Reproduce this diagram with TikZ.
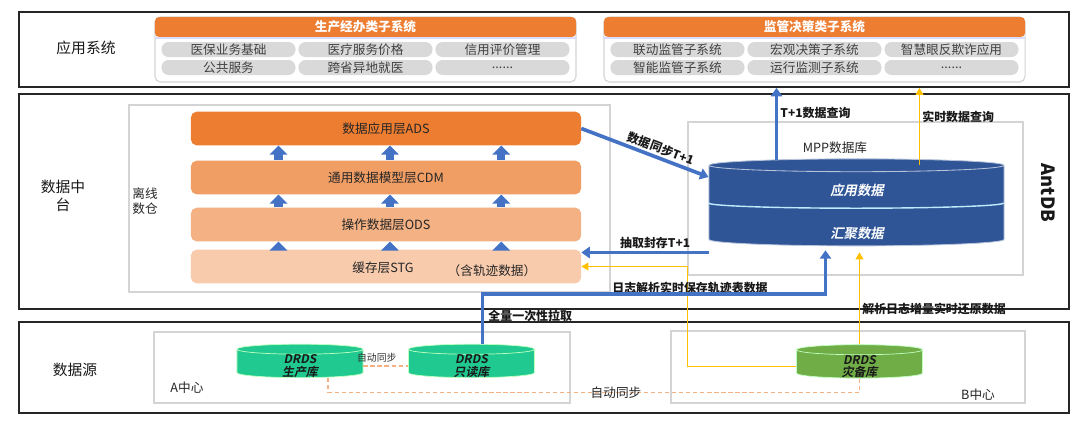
\documentclass[tikz,border=0pt]{standalone}
\usepackage{fontspec}
\setmainfont{Noto Sans CJK SC}[
    ItalicFont={Noto Sans CJK SC},
    ItalicFeatures={FakeSlant=0.2},
    BoldItalicFont={Noto Sans CJK SC Bold},
    BoldItalicFeatures={FakeSlant=0.2}]
\usepackage{tikz}
\usetikzlibrary{positioning,arrows.meta,calc,shapes.geometric}

\definecolor{hdrorange}{HTML}{ED7D31}
\definecolor{pillgray}{HTML}{D9D9D9}
\definecolor{adscol}{HTML}{ED7D31}
\definecolor{cdmcol}{HTML}{F19E65}
\definecolor{odscol}{HTML}{F4B183}
\definecolor{stgcol}{HTML}{F8CBAD}
\definecolor{arrowblue}{HTML}{4472C4}
\definecolor{arrowyellow}{HTML}{FFC000}
\definecolor{mppblue}{HTML}{2F5597}
\definecolor{drdsgreen}{HTML}{20C98F}
\definecolor{backupgreen}{HTML}{70AD47}
\definecolor{syncorange}{HTML}{F4B183}

\tikzset{
    tierbox/.style = {
        draw=black!85,
        shape=rectangle,
        line width=1.2pt,
        minimum width=26.25cm
    },
    subbox/.style = {
        draw=black!17,
        shape=rectangle,
        line width=1pt
    },
    subsys/.style = {
        draw=black!17,
        fill=white,
        rounded corners=4pt,
        line width=0.8pt,
        minimum width=10.525cm,
        minimum height=1.625cm
    },
    grouphead/.style = {
        fill=hdrorange,
        text=white,
        rounded corners=3pt,
        inner sep=0pt,
        minimum width=10.525cm,
        minimum height=0.5cm,
        font=\bfseries\fontsize{9}{10}\selectfont
    },
    headshadow/.style = {draw=blue!14, line width=1.2pt},
    pill/.style = {
        fill=pillgray,
        rounded corners=0.18cm,
        inner sep=0pt,
        minimum width=3.35cm,
        minimum height=0.375cm,
        text=black!75,
        font=\fontsize{9}{10}\selectfont
    },
    layer/.style = {
        rounded corners=4pt,
        inner sep=0pt,
        minimum width=9.75cm,
        minimum height=0.84cm,
        text=black!85,
        font=\fontsize{9}{10}\selectfont
    },
    tier/.style = {text=black!90, font=\fontsize{10.5}{13}\selectfont},
    plainlabel/.style = {text=black!85, font=\fontsize{9}{11}\selectfont},
    smalllabel/.style = {text=black!80, inner sep=1pt, font=\fontsize{7}{8}\selectfont},
    flowlabel/.style = {text=black!90, inner sep=1.5pt, font=\bfseries\fontsize{8.5}{10}\selectfont},
    antdb/.style = {rotate=-90, text=black!90, font=\bfseries\fontsize{13}{15}\selectfont},
    mppdb/.style = {
        cylinder,
        shape border rotate=90,
        aspect=0.044,
        fill=mppblue,
        draw=white!65!mppblue,
        line width=0.6pt,
        inner xsep=3.65cm,
        inner ysep=0pt,
        minimum width=7.375cm,
        minimum height=2.175cm
    },
    dbtext/.style = {text=white, font=\bfseries\itshape\fontsize{9.5}{11}\selectfont},
    drds/.style = {
        cylinder,
        shape border rotate=90,
        aspect=0.08,
        draw=white!75!green,
        line width=0.5pt,
        inner xsep=1.12cm,
        inner ysep=0pt,
        align=center,
        minimum width=3.15cm,
        minimum height=0.625cm,
        text=black!90,
        font=\bfseries\itshape\fontsize{8.5}{9}\selectfont
    },
    divider/.style = {draw=cyan!25, line width=1pt},
    bluearrow/.style = {draw=arrowblue, line width=2.6pt, -{Triangle[width=8pt,length=6pt]}},
    yellowarrow/.style = {draw=arrowyellow, line width=1pt, -{Triangle[width=5.5pt,length=5pt]}},
    layerarrow/.style = {draw=arrowblue, line width=6pt, -{Triangle[width=12.5pt,length=6.5pt]}},
    syncline/.style = {draw=syncorange, line width=1pt, dash pattern=on 3pt off 2pt},
}

\begin{document}
\begin{tikzpicture}[x=0.025cm, y=-0.025cm]
    \fill[white] (0,0) rectangle (1080,423);
    \useasboundingbox (0,0) rectangle (1080,423);

    % three tiers
    \node[tierbox, minimum height=1.875cm] (appsys) at (544,49.5) {};
    \node[tierbox, minimum height=5.375cm] (platform) at (544,201.5) {};
    \node[tierbox, minimum height=2.275cm] (source) at (544,367.5) {};
    \node[tier] (appsyslbl) at (86,48) {应用系统};
    \node[tier, align=center] (platformlbl) at (63,196) {数据中\\台};
    \node[tier] (sourcelbl) at (75,370) {数据源};
    \node[antdb] (antdb) at (1048,193) {AntDB};

    % application subsystems
    \node[subsys] (prodgrp) at (365.5,49.5) {};
    \node[grouphead] (prodhead) at (365.5,27) {生产经办类子系统};
    \draw[headshadow] ([yshift=-0.6pt]prodhead.south west) -- ([yshift=-0.6pt]prodhead.south east);
    \node[pill] (pill11) at (228.5,49.5) {医保业务基础};
    \node[pill] (pill12) at (365.5,49.5) {医疗服务价格};
    \node[pill] (pill13) at (502.5,49.5) {信用评价管理};
    \node[pill] (pill14) at (228.5,67.5) {公共服务};
    \node[pill] (pill15) at (365.5,67.5) {跨省异地就医};
    \node[pill] (pill16) at (502.5,67.5) {......};

    \node[subsys] (supgrp) at (814.5,49.5) {};
    \node[grouphead] (suphead) at (814.5,27) {监管决策类子系统};
    \draw[headshadow] ([yshift=-0.6pt]suphead.south west) -- ([yshift=-0.6pt]suphead.south east);
    \node[pill] (pill21) at (677.5,49.5) {联动监管子系统};
    \node[pill] (pill22) at (814.5,49.5) {宏观决策子系统};
    \node[pill] (pill23) at (951.5,49.5) {智慧眼反欺诈应用};
    \node[pill] (pill24) at (677.5,67.5) {智能监管子系统};
    \node[pill] (pill25) at (814.5,67.5) {运行监测子系统};
    \node[pill] (pill26) at (951.5,67.5) {......};

    % offline warehouse
    \node[subbox, minimum width=12.025cm, minimum height=4.675cm] (warehouse) at (369.5,198.5) {};
    \node[plainlabel, align=left] (warehouselbl) at (145,201) {离线\\数仓};
    \node[layer, fill=adscol] (ads) at (386,128.5) {数据应用层ADS};
    \node[layer, fill=cdmcol] (cdm) at (386,177.5) {通用数据模型层CDM};
    \node[layer, fill=odscol] (ods) at (386,224.5) {操作数据层ODS};
    \node[layer, fill=stgcol] (stg) at (386,266.5) {};
    \node[plainlabel] (stglbl) at (383,268) {缓存层STG};
    \node[plainlabel] (stgnote) at (492,271) {（含轨迹数据）};
    \foreach \lo/\hi in {stg/ods, ods/cdm, cdm/ads}
        \foreach \f in {0.225,0.51,0.795}
            \draw[layerarrow] ($(\lo.north west)!\f!(\lo.north east)$) -- ($(\hi.south west)!\f!(\hi.south east)$);

    % MPP database
    \node[subbox, minimum width=8.375cm, minimum height=3.825cm] (mppbox) at (855.5,198.5) {};
    \node[plainlabel] (mpplbl) at (835,148) {MPP数据库};
    \node[mppdb] (mpp) at (856.5,209) {};
    \draw[divider] ($(mpp.west)+(0,-6)$) arc[start angle=180, end angle=360, x radius=3.6875cm, y radius=0.13cm];
    \node[dbtext] (appdata) at (857,190) {应用数据};
    \node[dbtext] (sumdata) at (857,233) {汇聚数据};

    % data sources
    \node[subbox, minimum width=10.4cm, minimum height=1.775cm] (centera) at (362,367.5) {};
    \node[subbox, minimum width=8.85cm, minimum height=1.8cm] (centerb) at (848,367) {};
    \node[plainlabel] (centeralbl) at (187,388) {A中心};
    \node[plainlabel] (centerblbl) at (978,395) {B中心};
    \node[drds, fill=drdsgreen] (prod) at (300,366) {DRDS\\生产库};
    \node[drds, fill=drdsgreen] (readonly) at (471.5,366) {DRDS\\只读库};
    \node[drds, fill=backupgreen] (backup) at (859.5,366.5) {DRDS\\灾备库};

    % flows
    \draw[bluearrow] (ads.east) -- ($(mpp.west)+(0,-32)$)
        node[pos=0.6, sloped, above, flowlabel] {数据同步T+1};
    \coordinate (t1query) at ($(mpp.north)+(-80,2)$);
    \draw[bluearrow] (t1query) -- (t1query |- appsys.south)
        node[pos=0.65, right, flowlabel] {T+1数据查询};
    \coordinate (rtquery) at ($(mpp.north)+(63,7)$);
    \draw[yellowarrow] (rtquery) -- (rtquery |- appsys.south)
        node[pos=0.62, right, flowlabel] {实时数据查询};
    \coordinate (extract) at ($(stg.east)+(0,-14)$);
    \draw[bluearrow] (extract -| mpp.west) -- (extract)
        node[pos=0.42, above, flowlabel] {抽取封存T+1};
    \draw[yellowarrow] (backup.west) -| (mppbox.south west) |- (stg.east);
    \node[flowlabel] (loglbl) at (690,288) {日志解析实时保存轨迹表数据};
    \coordinate (pullstart) at ($(readonly.north)+(11,0)$);
    \coordinate (pullend) at ($(mpp.south)+(-31,4)$);
    \draw[bluearrow] (pullstart) |- ($(pullend)+(0,44)$) -- (pullend);
    \node[flowlabel, anchor=west] (pulllbl) at (486,316) {全量一次性拉取};
    \draw[yellowarrow] (backup.north) -- ($(backup.north |- mpp.south)+(0,6)$)
        node[pos=0.38, right, flowlabel] {解析日志增量实时还原数据};

    % sync between centres
    \draw[syncline] (prod.east) -- (readonly.west)
        node[pos=0.3, above=1pt, smalllabel] {自动同步};
    \draw[syncline] ($(prod.south)+(28,0)$) |- ($(backup.south)+(0,14)$) -- (backup.south);
    \node[plainlabel] (synclbl) at (616,393) {自动同步};
\end{tikzpicture}
\end{document}
